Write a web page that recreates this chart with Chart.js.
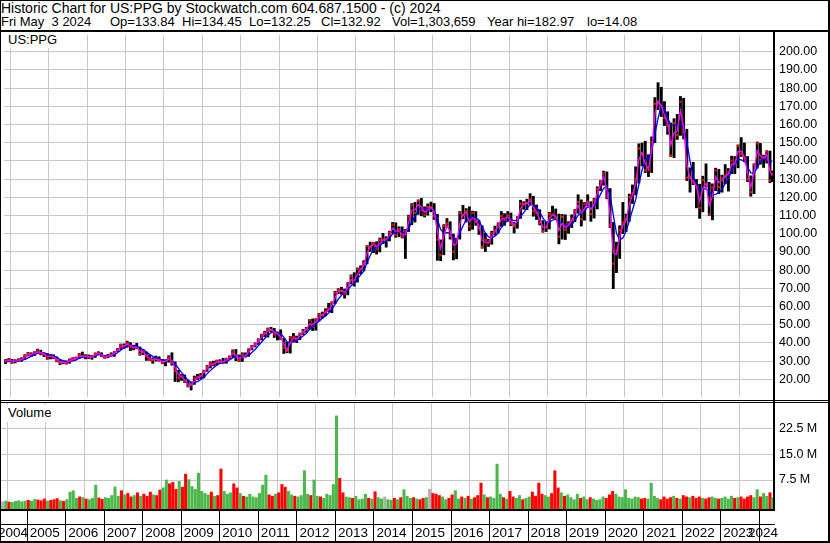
<!DOCTYPE html>
<html>
<head>
<meta charset="utf-8">
<title>Historic Chart for US:PPG</title>
<script src="https://cdn.jsdelivr.net/npm/chart.js@4.4.1/dist/chart.umd.min.js"></script>
<style>
  body { margin: 0; background: #fff; }
  #page { position: relative; width: 830px; height: 543px; overflow: hidden; background: #fff;
          font-family: "Liberation Sans", Arial, sans-serif; }
  .hdr { position: absolute; font-size: 14px; line-height: 14px; white-space: pre; color: #000; }
  .h2 { position: absolute; top: 15px; font-size: 13px; line-height: 14px; white-space: pre; color: #000; }
  .ln { position: absolute; background: #000; z-index: 3; }
  .tag { position: absolute; background: #fff; font-size: 13px; line-height: 15px; padding-left: 7px; color: #000; z-index: 2; }
  canvas { position: absolute; left: 0; }
</style>
</head>
<body>
<div id="page">
  <div class="hdr" style="left:1px;top:1px">Historic Chart for US:PPG by Stockwatch.com 604.687.1500 - (c) 2024</div>
  <span class="h2" style="left:1px">Fri May  3 2024</span>
  <span class="h2" style="left:110px">Op=133.84</span>
  <span class="h2" style="left:182px">Hi=134.45</span>
  <span class="h2" style="left:249px">Lo=132.25</span>
  <span class="h2" style="left:321px">Cl=132.92</span>
  <span class="h2" style="left:392px">Vol=1,303,659</span>
  <span class="h2" style="left:487px">Year hi=182.97</span>
  <span class="h2" style="left:587px">lo=14.08</span>
  <canvas id="price" width="830" height="370" style="top:31px"></canvas>
  <canvas id="vol" width="830" height="142" style="top:401px"></canvas>
  <div class="tag" style="left:1px;top:32px;width:54px;height:16px">US:PPG</div>
  <div class="tag" style="left:1px;top:405px;width:54px;height:17px">Volume</div>

  <div class="ln" style="left:0;top:0;width:830px;height:1px"></div>
  <div class="ln" style="left:0;top:0;width:1px;height:543px"></div>
  <div class="ln" style="left:828px;top:0;width:2px;height:543px"></div>
  <div class="ln" style="left:0;top:30px;width:830px;height:2px"></div>
  <div class="ln" style="left:773px;top:31px;width:2px;height:479px"></div>
  <div class="ln" style="left:0;top:400px;width:830px;height:1px"></div>
  <div class="ln" style="left:0;top:402px;width:830px;height:1px"></div>
  <div class="ln" style="left:0;top:509px;width:775px;height:2px"></div>
  <div class="ln" style="left:0;top:524px;width:775px;height:1px"></div>
  <div class="ln" style="left:0;top:541px;width:830px;height:2px"></div>
</div>
<script>
// one entry per month, May 2004 .. May 2024
var firstYear = 2004, firstMonth = 5;

var highs = [
  30.9, 31.5, 31.0, 30.8, 31.3, 31.9, 33.5, 34.8,
  34.6, 35.2, 36.6, 36.0, 34.6, 34.2, 33.8, 33.5, 32.4, 30.6, 30.5, 30.2,
  31.2, 31.9, 32.3, 34.2, 35.0, 33.6, 33.4, 33.2, 34.5, 35.2, 34.6, 33.2,
  33.8, 34.6, 35.4, 37.0, 39.4, 39.5, 41.0, 40.2, 38.8, 39.8, 37.8, 36.4,
  35.0, 33.4, 31.8, 32.8, 32.4, 31.0, 30.8, 33.0, 34.6, 29.6, 25.0, 22.8,
  22.4, 19.6, 18.6, 21.8, 22.8, 23.2, 25.0, 27.6, 29.6, 30.0, 30.6, 30.8,
  31.6, 31.6, 32.8, 36.2, 36.4, 33.4, 34.6, 34.6, 36.8, 38.6, 40.0, 42.2,
  44.8, 46.4, 48.2, 48.6, 48.0, 46.0, 47.2, 42.6, 40.4, 43.6, 45.2, 43.8,
  45.4, 47.4, 48.6, 52.8, 53.2, 53.4, 56.2, 57.0, 58.8, 61.8, 62.6, 68.4,
  69.8, 70.6, 69.6, 73.2, 77.4, 78.6, 81.2, 82.4, 85.2, 93.6, 95.4, 95.2,
  95.6, 97.6, 100.2, 98.4, 101.4, 106.2, 106.0, 103.8, 103.8, 102.4, 110.2, 116.6,
  117.2, 118.6, 119.4, 114.8, 116.4, 117.4, 116.6, 110.6, 96.6, 105.0, 108.4, 106.6,
  99.8, 97.6, 112.2, 115.6, 113.8, 114.8, 112.4, 112.2, 107.2, 104.4, 100.2, 97.0,
  101.4, 104.2, 106.0, 112.2, 111.0, 112.2, 111.4, 106.2, 109.4, 118.4, 117.6, 119.0,
  122.0, 120.6, 115.8, 113.2, 107.2, 106.4, 111.8, 115.2, 113.6, 110.8, 110.6, 110.4,
  106.6, 110.4, 113.4, 121.4, 118.6, 117.2, 121.4, 117.6, 119.4, 125.8, 129.2, 134.4,
  134.0, 124.8, 106.2, 95.4, 104.4, 117.2, 110.8, 121.8, 126.8, 136.8, 149.4, 149.8,
  150.8, 143.4, 153.2, 174.8, 182.97, 180.4, 172.6, 167.0, 160.8, 163.2, 165.6, 175.4,
  174.4, 157.4, 136.2, 139.2, 129.8, 127.2, 131.6, 138.4, 128.2, 127.4, 136.0, 135.4,
  132.2, 138.0, 135.8, 142.6, 142.4, 148.8, 152.8, 149.8, 142.4, 131.8, 138.4, 150.4,
  149.6, 143.2, 145.6, 145.4, 134.5
];
var lows = [
  28.6, 29.6, 28.8, 29.0, 29.8, 29.9, 30.9, 32.8,
  32.6, 33.0, 34.2, 33.4, 32.5, 31.0, 31.2, 31.4, 29.6, 28.0, 28.5, 28.4,
  28.8, 30.4, 30.8, 31.4, 31.8, 31.2, 31.4, 31.0, 32.0, 33.6, 32.4, 31.6,
  31.8, 32.8, 32.6, 35.2, 36.4, 37.0, 37.6, 35.8, 36.2, 36.8, 33.2, 33.6,
  30.4, 30.4, 28.8, 30.0, 30.0, 28.6, 27.4, 29.4, 27.8, 18.8, 18.6, 19.4,
  18.2, 15.8, 14.1, 17.2, 19.8, 20.4, 20.8, 24.4, 26.2, 27.4, 27.8, 28.9,
  28.8, 28.8, 31.0, 32.2, 30.2, 29.8, 29.8, 32.2, 32.6, 36.2, 37.8, 39.2,
  41.6, 43.4, 43.2, 46.0, 43.0, 41.6, 41.8, 34.2, 34.6, 34.4, 40.6, 40.2,
  41.8, 44.6, 45.8, 47.6, 46.8, 47.0, 52.0, 53.6, 54.8, 57.2, 56.6, 61.6,
  67.0, 66.8, 64.6, 66.4, 72.4, 71.2, 73.4, 78.0, 79.6, 83.4, 90.2, 89.6,
  88.8, 90.0, 94.6, 92.6, 96.0, 100.2, 98.0, 98.4, 97.6, 86.4, 101.2, 105.0,
  106.4, 110.6, 109.8, 109.2, 110.2, 112.0, 107.8, 85.4, 85.2, 88.4, 103.4, 97.0,
  85.6, 86.2, 97.0, 108.2, 106.4, 101.6, 102.4, 104.6, 99.6, 92.0, 90.2, 93.0,
  94.2, 99.2, 100.4, 104.0, 104.6, 106.8, 104.4, 100.4, 103.0, 108.4, 113.4, 113.2,
  116.4, 109.6, 107.8, 104.8, 100.8, 101.2, 102.6, 108.4, 107.6, 94.4, 97.0, 96.8,
  100.2, 103.4, 106.6, 111.2, 104.2, 107.4, 115.4, 106.8, 108.6, 113.6, 123.6, 126.6,
  119.2, 103.4, 69.8, 78.6, 86.4, 100.0, 101.2, 106.8, 116.6, 121.2, 127.8, 137.2,
  133.6, 131.4, 133.6, 150.0, 168.2, 164.4, 159.4, 154.6, 142.4, 141.8, 151.8, 154.0,
  152.0, 129.2, 122.8, 127.0, 114.2, 108.4, 112.0, 125.6, 110.0, 107.6, 123.6, 122.0,
  122.8, 127.4, 123.4, 133.0, 133.0, 136.2, 142.4, 139.6, 128.6, 120.6, 122.0, 136.0,
  138.2, 136.4, 138.8, 128.0, 128.6
];
var closes = [
  30.0, 30.8, 29.4, 30.2, 30.6, 31.2, 33.0, 34.2,
  33.4, 34.6, 35.8, 34.2, 33.8, 31.6, 33.2, 32.0, 30.2, 29.0, 29.8, 28.9,
  30.8, 31.4, 31.6, 33.6, 32.4, 33.0, 32.2, 32.6, 34.0, 34.4, 32.8, 32.0,
  33.0, 33.6, 35.0, 36.6, 38.8, 38.2, 40.0, 37.8, 37.4, 37.6, 34.0, 35.4,
  32.6, 31.0, 30.4, 31.6, 30.6, 29.0, 30.2, 32.0, 29.0, 24.6, 21.0, 21.6,
  18.8, 16.4, 17.8, 20.6, 21.2, 22.0, 24.6, 26.8, 29.0, 28.4, 30.0, 29.6,
  29.4, 31.2, 32.4, 35.2, 32.2, 30.4, 33.6, 32.8, 36.4, 38.2, 39.4, 41.9,
  44.4, 45.4, 47.6, 47.2, 44.8, 45.4, 42.2, 37.4, 35.6, 43.0, 43.2, 41.8,
  45.0, 46.4, 47.8, 52.4, 48.8, 53.0, 55.6, 55.2, 57.4, 58.6, 62.2, 67.6,
  69.0, 68.6, 67.0, 72.8, 76.6, 73.2, 80.6, 80.8, 83.6, 93.2, 93.0, 94.8,
  91.6, 96.6, 96.8, 96.8, 100.6, 105.0, 99.2, 102.4, 98.4, 101.6, 109.4, 115.6,
  111.4, 118.0, 112.8, 110.4, 114.6, 114.6, 109.8, 96.8, 88.2, 104.2, 105.6, 98.8,
  90.2, 97.0, 111.4, 110.2, 112.4, 104.0, 111.4, 106.4, 103.0, 92.8, 96.6, 95.0,
  100.2, 101.8, 105.4, 109.8, 107.6, 110.0, 105.4, 104.2, 108.8, 116.4, 116.2, 116.8,
  118.8, 112.4, 111.6, 105.8, 101.6, 103.6, 110.8, 110.6, 109.2, 98.4, 109.2, 102.2,
  105.4, 107.8, 112.8, 117.4, 108.0, 116.6, 117.6, 110.8, 118.4, 124.6, 128.6, 133.2,
  120.4, 104.6, 83.6, 90.8, 102.0, 106.2, 108.2, 120.0, 122.0, 129.8, 146.8, 144.2,
  134.8, 135.0, 150.2, 171.4, 172.0, 169.8, 163.6, 159.6, 143.0, 160.6, 154.2, 172.4,
  156.2, 130.8, 131.0, 128.0, 125.8, 114.2, 129.4, 127.2, 110.6, 125.4, 134.8, 125.6,
  130.4, 132.0, 133.6, 140.2, 137.8, 148.2, 143.8, 141.6, 129.8, 122.8, 137.8, 149.6,
  140.6, 141.6, 145.0, 129.2, 132.9
];
// magenta (fast) and blue (slow) averages
var maFast = [
  29.8, 30.4, 30.2, 29.9, 30.3, 30.8, 32.0, 33.4,
  33.8, 34.2, 35.0, 34.8, 34.0, 32.6, 32.6, 32.4, 31.0, 29.6, 29.4, 29.2,
  30.0, 30.9, 31.4, 32.6, 32.8, 32.6, 32.4, 32.4, 33.4, 34.2, 33.4, 32.4,
  32.6, 33.2, 34.4, 35.8, 37.8, 38.4, 39.2, 38.6, 37.6, 37.6, 35.6, 34.8,
  33.4, 31.6, 30.8, 31.0, 30.8, 29.8, 29.8, 31.0, 30.2, 26.4, 22.6, 21.4,
  19.8, 17.4, 16.8, 19.0, 20.8, 21.6, 23.6, 25.8, 28.0, 28.6, 29.4, 29.8,
  29.6, 30.4, 31.8, 34.2, 33.4, 31.4, 32.4, 33.0, 35.0, 37.4, 38.8, 40.8,
  43.2, 45.0, 46.6, 47.2, 45.8, 45.2, 43.4, 39.2, 36.2, 40.0, 42.6, 42.4,
  43.8, 45.8, 47.2, 50.4, 50.2, 51.4, 54.2, 55.4, 56.6, 58.2, 60.6, 65.0,
  68.2, 68.8, 67.6, 70.4, 74.8, 74.4, 77.8, 80.4, 82.6, 89.4, 92.6, 94.2,
  92.8, 94.6, 96.6, 96.8, 99.0, 103.2, 101.4, 101.4, 99.6, 99.4, 106.2, 112.8,
  113.2, 116.0, 114.8, 111.8, 113.2, 114.6, 111.8, 101.4, 91.8, 98.6, 104.4, 101.4,
  93.6, 94.4, 105.4, 110.6, 111.6, 106.6, 108.6, 107.8, 104.4, 96.4, 95.2, 95.4,
  98.4, 101.0, 104.0, 108.2, 108.4, 109.2, 107.0, 104.8, 107.0, 113.8, 116.2, 116.6,
  118.0, 114.4, 112.0, 107.8, 103.4, 103.2, 108.4, 110.4, 109.8, 101.8, 105.6, 103.6,
  104.6, 107.0, 111.0, 115.6, 111.4, 113.8, 117.2, 113.2, 116.0, 122.2, 127.2, 131.6,
  124.0, 110.8, 89.6, 88.6, 98.2, 104.6, 107.2, 116.4, 121.2, 127.4, 141.0, 144.4,
  138.4, 135.6, 145.6, 165.4, 172.8, 170.6, 165.2, 161.0, 148.6, 155.4, 156.4, 167.8,
  158.4, 137.6, 130.6, 129.0, 126.2, 117.6, 125.0, 127.6, 115.6, 120.4, 131.4, 128.0,
  129.2, 131.4, 132.8, 138.0, 138.6, 145.2, 145.4, 142.2, 133.4, 125.4, 133.4, 145.6,
  142.8, 141.6, 143.8, 134.4, 131.8
];
var maSlow = [
  29.6, 29.9, 30.0, 30.0, 30.2, 30.4, 31.0, 31.8,
  32.6, 33.4, 34.4, 34.8, 34.6, 33.8, 33.4, 32.8, 32.0, 31.0, 30.2, 29.6,
  29.8, 30.2, 30.6, 31.6, 32.2, 32.4, 32.6, 32.6, 33.0, 33.4, 33.4, 33.0,
  32.8, 32.8, 33.6, 34.6, 36.0, 37.2, 38.4, 38.6, 38.4, 38.2, 37.2, 36.4,
  35.2, 33.8, 32.6, 31.8, 31.2, 30.6, 30.4, 30.6, 30.4, 28.6, 26.2, 23.8,
  21.8, 19.6, 18.2, 18.4, 18.8, 19.8, 21.2, 23.0, 24.8, 26.4, 27.8, 28.8,
  29.2, 29.8, 30.6, 31.8, 32.6, 32.4, 32.6, 32.6, 33.2, 34.8, 36.4, 38.4,
  40.4, 42.4, 44.2, 45.6, 46.0, 45.8, 45.0, 43.2, 40.6, 40.2, 40.6, 41.2,
  42.4, 43.8, 45.2, 47.4, 48.8, 50.2, 52.0, 53.4, 54.8, 56.4, 58.4, 61.2,
  64.0, 66.2, 67.6, 69.2, 71.4, 72.8, 75.0, 77.4, 79.4, 84.0, 88.0, 91.2,
  92.4, 93.6, 95.0, 96.0, 97.6, 99.8, 100.6, 101.2, 101.2, 100.2, 102.6, 106.4,
  109.4, 112.6, 114.0, 113.8, 113.4, 113.6, 112.6, 108.2, 102.4, 100.4, 100.6, 100.4,
  97.4, 96.4, 100.2, 104.2, 107.6, 108.6, 109.2, 108.8, 107.4, 103.6, 100.4, 98.2,
  97.8, 98.6, 100.4, 103.4, 105.6, 107.2, 107.8, 107.2, 107.2, 109.2, 111.6, 114.0,
  116.0, 115.6, 114.6, 112.0, 108.6, 106.4, 106.4, 107.4, 108.2, 106.4, 105.6, 104.8,
  104.4, 105.0, 107.2, 110.2, 111.4, 112.6, 114.8, 114.2, 114.8, 118.0, 121.6, 125.0,
  126.0, 121.4, 110.4, 100.2, 96.6, 97.6, 101.4, 107.0, 113.0, 118.8, 127.0, 135.0,
  140.6, 141.2, 145.4, 154.4, 163.4, 170.4, 169.0, 163.4, 159.8, 159.6, 159.6, 160.4,
  158.4, 150.4, 140.0, 131.4, 126.2, 124.8, 124.6, 124.6, 123.2, 121.4, 121.6, 122.6,
  124.4, 127.6, 130.4, 134.4, 137.8, 141.0, 140.6, 139.8, 136.6, 133.4, 133.2, 136.2,
  139.6, 141.0, 140.8, 140.2, 139.6
];
// volume, millions
var volumes = [
  1.2, 1.4, 1.1, 1.0, 1.3, 1.5, 1.2, 1.4,
  1.6, 1.4, 1.9, 1.7, 1.5, 2.0, 1.4, 1.6, 1.8, 2.1, 1.5, 1.3,
  1.8, 4.0, 4.4, 2.2, 2.6, 2.4, 2.0, 1.8, 2.2, 6.0, 2.3, 1.9,
  2.4, 2.2, 3.0, 5.5, 2.8, 4.4, 3.2, 3.6, 2.6, 3.0, 3.8, 2.8,
  3.4, 2.8, 4.0, 3.2, 3.0, 4.6, 5.2, 7.5, 6.4, 6.8, 4.8, 7.1,
  5.4, 9.2, 7.6, 5.6, 4.8, 9.5, 4.2, 3.6, 3.2, 4.0, 2.8, 3.0,
  10.7, 4.2, 3.4, 3.8, 6.4, 5.2, 3.6, 2.8, 2.6, 3.4, 2.6, 2.4,
  3.6, 6.0, 8.9, 3.2, 2.8, 3.4, 3.8, 6.2, 5.4, 4.2, 3.2, 2.8,
  2.6, 3.0, 10.2, 3.4, 3.0, 7.5, 2.8, 2.6, 2.2, 3.4, 3.0, 6.2,
  26.1, 8.0, 3.8, 2.6, 2.4, 2.2, 2.8, 1.8, 2.0, 3.4, 2.2, 2.0,
  4.1, 2.4, 2.0, 2.6, 1.8, 1.6, 2.2, 1.8, 2.4, 4.7, 2.8, 2.2,
  2.4, 2.0, 1.8, 2.2, 2.4, 4.8, 3.6, 3.4, 3.0, 2.6, 1.8, 2.2,
  3.2, 4.4, 2.0, 2.6, 2.2, 2.8, 2.0, 2.4, 3.0, 6.6, 3.2, 2.4,
  2.6, 2.2, 12.1, 3.4, 2.4, 2.0, 4.2, 2.6, 2.2, 3.0, 1.8, 2.2,
  2.6, 4.0, 2.8, 6.6, 3.4, 3.0, 2.6, 3.6, 10.2, 5.2, 3.8, 2.8,
  3.2, 2.4, 1.8, 3.4, 2.2, 2.6, 1.8, 2.4, 2.0, 1.6, 1.8, 2.6,
  2.2, 3.2, 4.2, 3.4, 2.6, 2.4, 4.7, 2.2, 2.0, 2.6, 2.4, 2.0,
  2.2, 2.0, 6.6, 2.8, 2.2, 1.8, 2.6, 2.0, 2.4, 2.8, 2.2, 2.0,
  3.0, 2.6, 2.4, 2.8, 2.2, 2.6, 2.2, 2.0, 2.4, 2.6, 2.2, 2.0,
  2.2, 2.6, 2.0, 2.8, 2.2, 2.4, 2.6, 2.0, 2.6, 3.0, 2.4, 4.7,
  2.6, 3.6, 2.8, 3.8, 2.4
];

var yearLabels = ['2004', '2005', '2006', '2007', '2008', '2009', '2010', '2011', '2012', '2013', '2014',
                  '2015', '2016', '2017', '2018', '2019', '2020', '2021', '2022', '2023', '2024'];
var priceTicks = [20, 30, 40, 50, 60, 70, 80, 90, 100, 110, 120, 130, 140, 150, 160, 170, 180, 190, 200];
var volTicks = [7.5, 15, 22.5];

var xMin = 2004.333, xMax = 2024.37;
var FONT = '"Liberation Sans", Arial, sans-serif';
var GRID = '#c8c8c8';

function monthPos(i) {
  var t = firstYear + (firstMonth - 1 + i + 0.5) / 12;
  return Math.min(t, 2024.35);
}
function yearTicks(scale) {
  var t = [];
  for (var k = 1; k < yearLabels.length; k++) t.push({ value: parseInt(yearLabels[k], 10) });
  scale.ticks = t;
}

var rangePts = [], closePts = [], fastPts = [], slowPts = [], volPts = [], volColors = [];
for (var i = 0; i < closes.length; i++) {
  var x = monthPos(i);
  rangePts.push({ x: x, y: [lows[i], highs[i]] });
  closePts.push({ x: x, y: closes[i] });
  fastPts.push({ x: x, y: maFast[i] });
  slowPts.push({ x: x, y: maSlow[i] });
  volPts.push({ x: x, y: volumes[i] });
  var prev = i > 0 ? closes[i - 1] : closes[i];
  volColors.push(closes[i] > prev ? '#4cb84c' : (closes[i] < prev ? '#ff0000' : '#b0b0b0'));
}

var xScale = function (h) {
  return {
    type: 'linear', min: xMin, max: xMax, offset: false,
    grid: { color: GRID, drawTicks: false },
    border: { display: false },
    ticks: { display: false },
    afterBuildTicks: yearTicks,
    afterFit: function (s) { s.height = h; s.paddingLeft = 0; s.paddingRight = 0; }
  };
};

new Chart(document.getElementById('price'), {
  type: 'bar',
  data: {
    datasets: [
      { type: 'line', data: fastPts, borderColor: '#ff00ff', borderWidth: 1.3, pointRadius: 0, order: 1 },
      { type: 'line', data: slowPts, borderColor: '#0000ff', borderWidth: 1.3, pointRadius: 0, order: 2 },
      { type: 'line', data: closePts, showLine: false, pointStyle: 'rect', pointRadius: 1.6,
        backgroundColor: '#ff0000', borderWidth: 0, order: 3 },
      { type: 'bar', data: rangePts, backgroundColor: '#000000', barThickness: 2.2, grouped: false, order: 4 }
    ]
  },
  options: {
    responsive: false, animation: false, devicePixelRatio: 1,
    layout: { padding: { left: 1, right: 0, top: 0, bottom: 0 } },
    plugins: { legend: { display: false }, tooltip: { enabled: false } },
    scales: {
      x: xScale(0),
      y: {
        position: 'right', min: 10.3, max: 209.16,
        grid: { color: GRID, drawTicks: false },
        border: { display: false },
        ticks: { color: '#000', padding: 6, font: { family: FONT, size: 12.5 },
                 callback: function (v) { return v.toFixed(2); } },
        afterBuildTicks: function (s) { s.ticks = priceTicks.map(function (v) { return { value: v }; }); },
        afterFit: function (s) { s.width = 57; s.paddingTop = 0; s.paddingBottom = 0; }
      }
    }
  }
});

var yearRow = {
  id: 'yearRow',
  afterDraw: function (chart) {
    var ctx = chart.ctx, xs = chart.scales.x, a = chart.chartArea;
    ctx.save();
    ctx.fillStyle = '#000';
    for (var k = 1; k < yearLabels.length; k++) {
      var px = Math.round(xs.getPixelForValue(parseInt(yearLabels[k], 10)));
      ctx.fillRect(px, a.bottom, 1, 142 - a.bottom);
    }
    ctx.font = '13.5px ' + FONT;
    ctx.textBaseline = 'middle';
    ctx.textAlign = 'left';
    yearLabels.forEach(function (lab, k) {
      var tx = k === 0 ? -2 : xs.getPixelForValue(parseInt(lab, 10)) + 3;
      var w = ctx.measureText(lab).width;
      if (tx + w > 778) tx = 778 - w;
      ctx.fillText(lab, tx, 132);
    });
    ctx.restore();
  }
};

new Chart(document.getElementById('vol'), {
  type: 'bar',
  data: {
    datasets: [
      { data: volPts, backgroundColor: volColors, barThickness: 2.4, base: -0.91 }
    ]
  },
  options: {
    responsive: false, animation: false, devicePixelRatio: 1,
    layout: { padding: { left: 1, right: 0, top: 1, bottom: 0 } },
    plugins: { legend: { display: false }, tooltip: { enabled: false } },
    scales: {
      x: xScale(34),
      y: {
        position: 'right', min: -0.91, max: 30.13,
        grid: { color: GRID, drawTicks: false },
        border: { display: false },
        ticks: { color: '#000', padding: 6, font: { family: FONT, size: 12.5 },
                 callback: function (v) { return v.toFixed(1) + ' M'; } },
        afterBuildTicks: function (s) { s.ticks = volTicks.map(function (v) { return { value: v }; }); },
        afterFit: function (s) { s.width = 57; s.paddingTop = 0; s.paddingBottom = 0; }
      }
    }
  },
  plugins: [yearRow]
});
</script>
</body>
</html>
